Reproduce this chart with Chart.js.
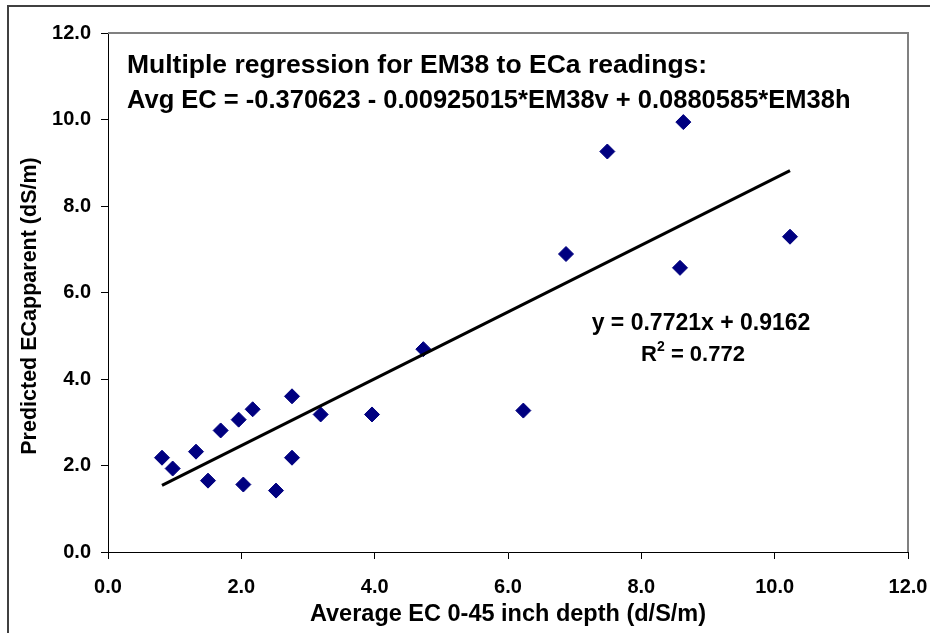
<!DOCTYPE html>
<html>
<head>
<meta charset="utf-8">
<script src="https://cdn.jsdelivr.net/npm/chart.js@4.4.0/dist/chart.umd.min.js"></script>
<style>
  html, body { margin: 0; padding: 0; background: #fff; }
  #wrap { width: 930px; height: 633px; position: relative; }
</style>
</head>
<body>
<div id="wrap"><canvas id="c" width="930" height="633"></canvas></div>
<script>
// ---- Data ----
const avgEC = [0.81, 0.97, 1.32, 1.50, 1.69, 1.96, 2.03, 2.17, 2.52, 2.76, 2.76, 3.19, 3.96, 4.73, 6.23, 6.87, 7.49, 8.58, 8.63, 10.23];
const predictedECa = [2.18, 1.93, 2.32, 1.65, 2.81, 3.06, 1.56, 3.30, 1.42, 3.60, 2.18, 3.18, 3.18, 4.69, 3.27, 6.89, 9.26, 6.57, 9.94, 7.29];
const trendX = [0.81, 10.23];
const trendY = [1.54, 8.82];
const tickValues = [0, 2, 4, 6, 8, 10, 12];
const titleLines = [
  "Multiple regression for EM38 to ECa readings:",
  "Avg EC = -0.370623 - 0.00925015*EM38v + 0.0880585*EM38h"
];
const trendEquation = "y = 0.7721x + 0.9162";
const rSquaredText = " = 0.772";
const xTitle = "Average EC 0-45 inch depth (d/S/m)";
const yTitle = "Predicted ECapparent (dS/m)";

const FONT = "'Liberation Sans', Arial, sans-serif";

const points = avgEC.map((x, i) => ({ x: x, y: predictedECa[i] }));
const trend = trendX.map((x, i) => ({ x: x, y: trendY[i] }));

const decor = {
  id: 'decor',
  beforeDraw(chart) {
    const ctx = chart.ctx;
    ctx.save();
    ctx.fillStyle = '#fff';
    ctx.fillRect(0, 0, chart.width, chart.height);
    ctx.strokeStyle = '#404040';
    ctx.lineWidth = 2;
    ctx.beginPath();
    ctx.moveTo(8, chart.height);
    ctx.lineTo(8, 6);
    ctx.lineTo(chart.width, 6);
    ctx.stroke();
    ctx.restore();
  },
  afterDraw(chart) {
    const ctx = chart.ctx;
    const a = chart.chartArea;
    ctx.save();
    // plot frame top/right (gray)
    ctx.strokeStyle = '#808080';
    ctx.lineWidth = 2;
    ctx.beginPath();
    ctx.moveTo(a.left, a.top);
    ctx.lineTo(a.right, a.top);
    ctx.lineTo(a.right, a.bottom);
    ctx.stroke();

    ctx.fillStyle = '#000';
    // y axis title
    ctx.save();
    ctx.translate(30, 306);
    ctx.rotate(-Math.PI / 2);
    ctx.textAlign = 'center';
    ctx.textBaseline = 'middle';
    ctx.font = "bold 21.5px " + FONT;
    ctx.fillText(yTitle, 0, 0);
    ctx.restore();

    ctx.textBaseline = 'alphabetic';
    ctx.textAlign = 'left';
    ctx.font = "bold 26.5px " + FONT;
    ctx.fillText(titleLines[0], a.left + 19, a.top + 40);
    ctx.font = "bold 25.5px " + FONT;
    ctx.fillText(titleLines[1], a.left + 19, a.top + 75);

    ctx.font = "bold 23px " + FONT;
    ctx.textAlign = 'center';
    ctx.fillText(trendEquation, 701, 330);

    // R² line
    const r = "R";
    ctx.font = "bold 22px " + FONT;
    const wR = ctx.measureText(r).width;
    ctx.font = "bold 14px " + FONT;
    const w2 = ctx.measureText("2").width;
    ctx.font = "bold 22px " + FONT;
    const wRest = ctx.measureText(rSquaredText).width;
    const total = wR + w2 + wRest;
    let x0 = 693 - total / 2;
    ctx.textAlign = 'left';
    ctx.fillText(r, x0, 361);
    ctx.font = "bold 14px " + FONT;
    ctx.fillText("2", x0 + wR, 351);
    ctx.font = "bold 22px " + FONT;
    ctx.fillText(rSquaredText, x0 + wR + w2, 361);
    ctx.restore();
  }
};

new Chart(document.getElementById('c'), {
  type: 'scatter',
  data: {
    datasets: [
      {
        type: 'scatter',
        label: 'Predicted',
        data: points,
        pointStyle: 'rectRot',
        pointRadius: 7.5,
        pointHoverRadius: 7.5,
        backgroundColor: '#000080',
        borderColor: '#000080',
        borderWidth: 1,
        order: 1
      },
      {
        type: 'line',
        label: 'Linear',
        data: trend,
        borderColor: '#000',
        borderWidth: 3,
        pointRadius: 0,
        fill: false,
        order: 0
      }
    ]
  },
  plugins: [decor],
  options: {
    responsive: false,
    animation: false,
    layout: { padding: { left: 10, top: 33, right: 22, bottom: 4 } },
    plugins: { legend: { display: false }, tooltip: { enabled: false } },
    scales: {
      x: {
        type: 'linear',
        min: 0, max: 12,
        afterBuildTicks(scale) { scale.ticks = tickValues.map(v => ({ value: v })); },
        afterFit(scale) { scale.height = 77; scale.paddingLeft = 0; scale.paddingRight = 0; },
        ticks: {
          color: '#000',
          font: { family: FONT, size: 20, weight: 'bold' },
          padding: 16,
          maxRotation: 0,
          callback: v => Number(v).toFixed(1)
        },
        grid: { drawOnChartArea: false, drawTicks: true, tickLength: 7, color: '#000' },
        border: { display: true, color: '#000', width: 1 },
        title: {
          display: true,
          text: xTitle,
          color: '#000',
          font: { family: FONT, size: 23.5, weight: 'bold' },
          padding: { top: 0, bottom: 0 }
        }
      },
      y: {
        type: 'linear',
        min: 0, max: 12,
        afterBuildTicks(scale) { scale.ticks = tickValues.map(v => ({ value: v })); },
        afterFit(scale) { scale.width = 98; scale.paddingTop = 0; scale.paddingBottom = 0; },
        ticks: {
          color: '#000',
          font: { family: FONT, size: 20, weight: 'bold' },
          padding: 10,
          callback: v => Number(v).toFixed(1)
        },
        grid: { drawOnChartArea: false, drawTicks: true, tickLength: 7, color: '#000' },
        border: { display: true, color: '#000', width: 1 },
        title: { display: false }
      }
    }
  }
});
</script>
</body>
</html>
